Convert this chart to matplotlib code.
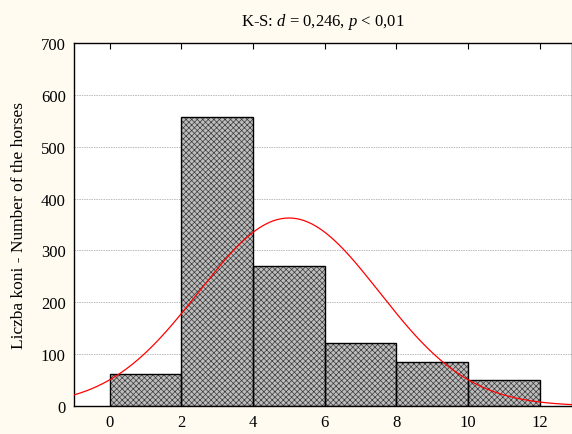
import numpy as np
import matplotlib
matplotlib.use("Agg")
import matplotlib.pyplot as plt

plt.rcParams["font.family"] = "Liberation Serif"
plt.rcParams["mathtext.fontset"] = "custom"
plt.rcParams["mathtext.it"] = "Liberation Serif:italic"
plt.rcParams["mathtext.rm"] = "Liberation Serif"
plt.rcParams["hatch.linewidth"] = 0.5

# histogram bins (left edges) and counts
bin_left = [0, 2, 4, 6, 8, 10]
counts = [62, 557, 270, 121, 85, 50]
bin_width = 2

# fitted normal curve parameters
fit_mean = 5.0
fit_sd = 2.52

x_ticks = [0, 2, 4, 6, 8, 10, 12]
y_ticks = [0, 100, 200, 300, 400, 500, 600, 700]

fig = plt.figure(figsize=(5.72, 4.35), dpi=100, facecolor="#fffbf0")
ax = fig.add_axes([74 / 572, 28 / 435, 498 / 572, 363 / 435])
ax.set_facecolor("white")

# fine grey fill first, then the black outlines on top
ax.bar(bin_left, counts, width=bin_width, align="edge", facecolor="#bdbdbd",
       edgecolor="#3a3a3a", linewidth=0, hatch="xxxxxx", zorder=2)
ax.bar(bin_left, counts, width=bin_width, align="edge", fill=False,
       edgecolor="black", linewidth=1.0, zorder=2.5)

n_total = sum(counts)
xs = np.linspace(-1, 13, 400)
ys = n_total * bin_width * np.exp(-0.5 * ((xs - fit_mean) / fit_sd) ** 2) / (fit_sd * np.sqrt(2 * np.pi))
ax.plot(xs, ys, color="red", linewidth=0.9, zorder=3)

ax.set_xlim(-1, 12.9)
ax.set_ylim(0, 700)
ax.set_xticks(x_ticks)
ax.set_yticks(y_ticks)
ax.yaxis.grid(True, color="#bbbbbb", linestyle=(0, (1.5, 1)), linewidth=0.7, zorder=0)
ax.set_axisbelow(True)
ax.tick_params(axis="both", direction="in", labelsize=12, length=4,
               top=True, right=False, bottom=False, left=False, pad=6)
for s in ax.spines.values():
    s.set_color("black")
    s.set_linewidth(1.0)

ax.set_ylabel("Liczba koni - Number of the horses", fontsize=12.5, labelpad=10)
ax.set_title(r"K-S: $\mathit{d}$ = 0,246, $\mathit{p}$ < 0,01", fontsize=12, pad=13)

fig.savefig("out.png", dpi=100, facecolor=fig.get_facecolor())
